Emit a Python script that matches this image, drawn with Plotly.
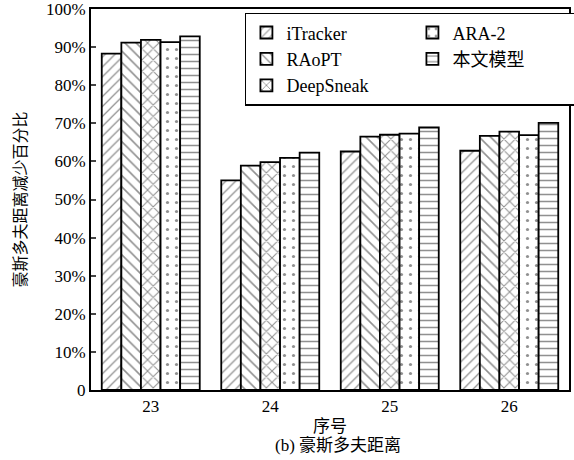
import plotly.graph_objects as go

# Sample IDs and Hausdorff-distance reduction (%) per method
categories = ["23", "24", "25", "26"]
itracker = [88.3, 55.0, 62.6, 62.8]
raopt = [91.2, 58.9, 66.5, 66.7]
deepsneak = [91.9, 59.8, 67.0, 67.8]
ara2 = [91.3, 60.9, 67.3, 66.9]
ours = [92.8, 62.3, 68.9, 70.1]

series_names = ["iTracker", "RAoPT", "DeepSneak", "ARA-2", "本文模型"]
series_values = [itracker, raopt, deepsneak, ara2, ours]
y_ticks = [0, 10, 20, 30, 40, 50, 60, 70, 80, 90, 100]
y_tick_text = ["0"] + [f"{v}%" for v in y_ticks[1:]]

FONT = "'Liberation Serif', 'Times New Roman', 'Noto Sans CJK SC', serif"

patterns = [
    dict(shape="/", size=7, solidity=0.18),
    dict(shape="\\", size=8, solidity=0.2),
    dict(shape="x", size=8, solidity=0.25),
    dict(shape=".", size=9, solidity=0.1),
    dict(shape="-", size=7, solidity=0.22),
]
# legend laid out in two columns: left column first three methods, right column the other two
legend_ranks = [1, 3, 5, 2, 4]

fig = go.Figure()
for name, vals, pat, rank in zip(series_names, series_values, patterns, legend_ranks):
    fig.add_trace(go.Bar(
        x=categories, y=vals, name=name, legendrank=rank,
        marker=dict(
            color="white",
            line=dict(color="black", width=1.8),
            pattern=dict(fgcolor="#222", bgcolor="white", **pat),
        ),
    ))

fig.update_layout(
    width=574, height=460,
    margin=dict(l=91, r=5, t=9, b=70, autoexpand=False),
    paper_bgcolor="white", plot_bgcolor="white",
    barmode="group", bargap=0.18, bargroupgap=0,
    font=dict(family=FONT, size=17, color="black"),
    showlegend=True,
    legend=dict(
        orientation="h", x=0.322, y=0.99, xanchor="left", yanchor="top",
        entrywidth=121, bordercolor="black", borderwidth=1.5,
        bgcolor="white", font=dict(family=FONT, size=18), tracegroupgap=0,
    ),
    xaxis=dict(
        type="category", range=[-0.5, 3.5], showline=True, linecolor="black",
        linewidth=2, mirror=True, ticks="", tickfont=dict(family=FONT, size=17),
        title=dict(text="序号", font=dict(family=FONT, size=17), standoff=5),
    ),
    yaxis=dict(
        range=[0, 100], tickvals=y_ticks, ticktext=y_tick_text,
        ticklabeloverflow="allow",
        showline=True, linecolor="black", linewidth=2, mirror=True,
        ticks="inside", ticklen=5, tickwidth=1.5, showgrid=False,
        zeroline=False, tickfont=dict(family=FONT, size=17),
        title=dict(text="豪斯多夫距离减少百分比", font=dict(family=FONT, size=16), standoff=15),
    ),
    annotations=[dict(
        text="(b) 豪斯多夫距离", xref="paper", yref="paper",
        x=0.517, y=-0.112, xanchor="center", yanchor="top",
        showarrow=False, font=dict(family=FONT, size=17),
    )],
)

fig.write_html("out.html")
